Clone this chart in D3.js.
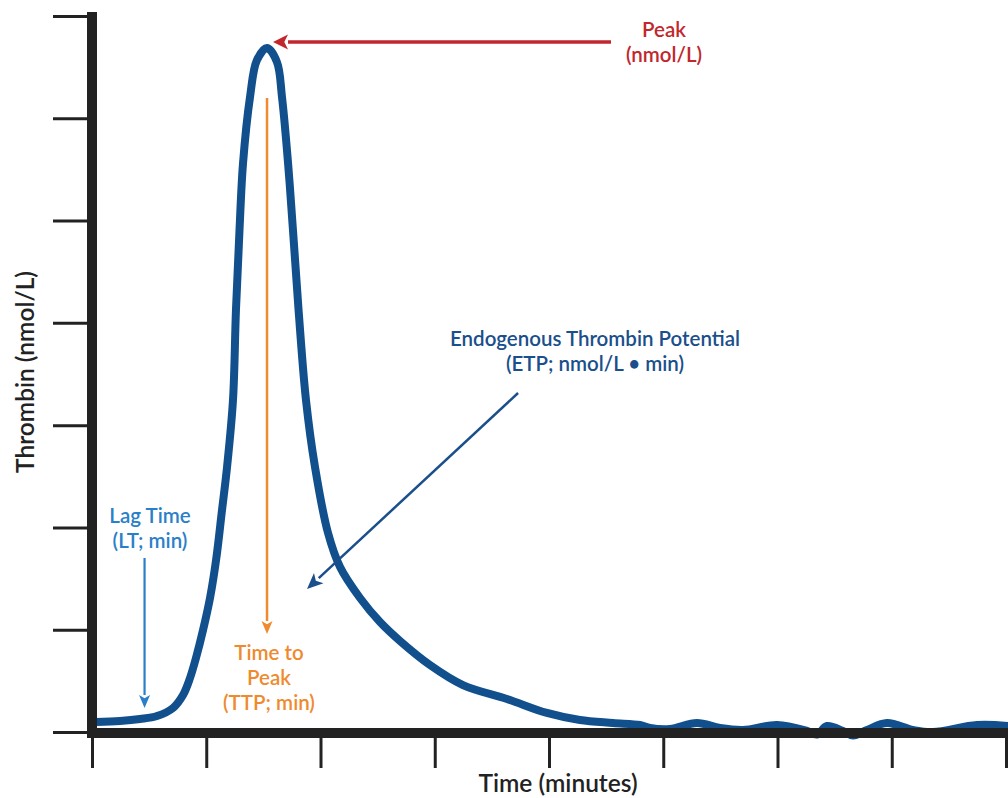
<!DOCTYPE html>
<html>
<head>
<meta charset="utf-8">
<script src="https://cdn.jsdelivr.net/npm/d3@7"></script>
<style>
  body { margin: 0; background: #fff; }
  text { font-family: Lato, "Open Sans", sans-serif; }
</style>
</head>
<body>
<div id="chart"></div>
<script>
// time (minutes, axis units) and thrombin (nmol/L, axis units)
var times = [0.035, 0.245, 0.42, 0.569, 0.709, 0.797, 0.858, 0.910, 0.972, 1.033, 1.086, 1.138, 1.182, 1.234, 1.260, 1.291, 1.322, 1.383, 1.444, 1.532,
             1.619, 1.663, 1.716, 1.759, 1.808, 1.873, 1.952, 2.066, 2.171, 2.346, 2.521, 2.696, 2.958, 3.247, 3.632, 3.982,
             4.271, 4.560, 4.796, 4.884, 5.059, 5.295, 5.497, 5.698, 5.996, 6.258, 6.346, 6.433, 6.573, 6.661, 6.783, 6.958,
             7.186, 7.361, 7.746, 8.018];
var thrombin = [0.098, 0.108, 0.127, 0.156, 0.235, 0.362, 0.528, 0.723, 0.997, 1.310, 1.681, 2.170, 2.590, 3.245, 4.125, 4.907, 5.562, 6.207, 6.569, 6.686,
                6.549, 6.207, 5.562, 4.907, 4.125, 3.245, 2.590, 1.945, 1.613, 1.310, 1.075, 0.890, 0.655, 0.459, 0.323, 0.186,
                0.117, 0.088, 0.068, 0.039, 0.029, 0.088, 0.039, 0.020, 0.068, 0.010, -0.025, 0.059, 0.010, -0.035, 0.020, 0.088,
                0.020, 0.000, 0.068, 0.059];
var xTicks = [0, 1, 2, 3, 4, 5, 6, 7, 8];
var yTicks = [0, 1, 2, 3, 4, 5, 6, 7];

var lagTime = 0.46;
var etpFrom = [3.729, 3.314], etpTo = [1.882, 1.398];

var width = 1008, height = 798;
var svg = d3.select("#chart").append("svg")
    .attr("width", width)
    .attr("height", height);

var x = d3.scaleLinear().domain([0, 8]).range([92, 1006]);
var y = d3.scaleLinear().domain([0, 7]).range([732, 16]);

var data = times.map(function(t, i) { return { t: t, v: thrombin[i] }; });

// curve
var line = d3.line()
    .x(function(d) { return x(d.t); })
    .y(function(d) { return y(d.v); })
    .curve(d3.curveCatmullRom.alpha(0.5));

svg.append("path")
    .datum(data)
    .attr("d", line)
    .attr("fill", "none")
    .attr("stroke", "#11508c")
    .attr("stroke-width", 8)
    .attr("stroke-linecap", "round")
    .attr("stroke-linejoin", "round");

// axes
var yAxis = d3.axisLeft(y).tickValues(yTicks).tickSize(39).tickSizeOuter(0).tickFormat("");
var xAxis = d3.axisBottom(x).tickValues(xTicks).tickSize(36).tickSizeOuter(0).tickFormat("");

var gy = svg.append("g").attr("transform", "translate(" + x(0) + ",0)").call(yAxis);
var gx = svg.append("g").attr("transform", "translate(0," + y(0) + ")").call(xAxis);
gy.select(".domain").remove();
gx.select(".domain").remove();
svg.selectAll(".tick line").attr("stroke", "#222").attr("stroke-width", 3);

svg.append("line")
    .attr("x1", x(0)).attr("x2", x(0))
    .attr("y1", 12).attr("y2", y(0) + 6)
    .attr("stroke", "#222").attr("stroke-width", 10);
svg.append("line")
    .attr("x1", x(0) - 5).attr("x2", width)
    .attr("y1", y(0) + 1).attr("y2", y(0) + 1)
    .attr("stroke", "#222").attr("stroke-width", 10);

// axis titles
svg.append("text")
    .attr("x", 558).attr("y", 792)
    .attr("text-anchor", "middle")
    .attr("font-size", 24.5).attr("font-weight", 600).attr("fill", "#222")
    .text("Time (minutes)");
svg.append("text")
    .attr("transform", "translate(34,372) rotate(-90)")
    .attr("text-anchor", "middle")
    .attr("font-size", 24.5).attr("font-weight", 600).attr("fill", "#222")
    .text("Thrombin (nmol/L)");

// arrows
function arrow(x1, y1, x2, y2, color, w, hl, hw) {
    var a = Math.atan2(y2 - y1, x2 - x1);
    var bx = x2 - hl * Math.cos(a), by = y2 - hl * Math.sin(a);
    svg.append("line")
        .attr("x1", x1).attr("y1", y1).attr("x2", bx).attr("y2", by)
        .attr("stroke", color).attr("stroke-width", w);
    var px = -Math.sin(a) * hw / 2, py = Math.cos(a) * hw / 2;
    svg.append("path")
        .attr("d", "M" + x2 + "," + y2 + "L" + (bx + px) + "," + (by + py) + "L" + (bx + hl * 0.25 * Math.cos(a)) + "," + (by + hl * 0.25 * Math.sin(a)) + "L" + (bx - px) + "," + (by - py) + "Z")
        .attr("fill", color);
}

function label(lines, cx, y0, dy, color) {
    var t = svg.append("text")
        .attr("text-anchor", "middle")
        .attr("font-size", 20.5).attr("font-weight", 600).attr("fill", color);
    lines.forEach(function(s, i) {
        t.append("tspan").attr("x", cx).attr("y", y0 + i * dy).text(s);
    });
}

var peak = data.reduce(function(a, b) { return b.v > a.v ? b : a; });

// Peak
arrow(611, y(peak.v) - 6, x(peak.t) + 6, y(peak.v) - 6, "#c1272d", 3.5, 15, 15);
label(["Peak", "(nmol/L)"], 664, 37, 25, "#c1272d");

// Time to peak
arrow(x(peak.t), 98, x(peak.t), 634, "#ef8a2e", 2.5, 13, 11);
label(["Time to", "Peak", "(TTP; min)"], 269, 660, 25, "#ef8a2e");

// Lag time
arrow(x(lagTime), 558, x(lagTime), 708, "#2a80c8", 2.2, 13, 11);
label(["Lag Time", "(LT; min)"], 150, 523, 25, "#2a80c8");

// ETP
arrow(x(etpFrom[0]), y(etpFrom[1]), x(etpTo[0]), y(etpTo[1]), "#1a4f8b", 2.5, 16, 14);
label(["Endogenous Thrombin Potential", "(ETP; nmol/L \u2022 min)"], 595, 346, 25, "#1a4f8b");
</script>
</body>
</html>
